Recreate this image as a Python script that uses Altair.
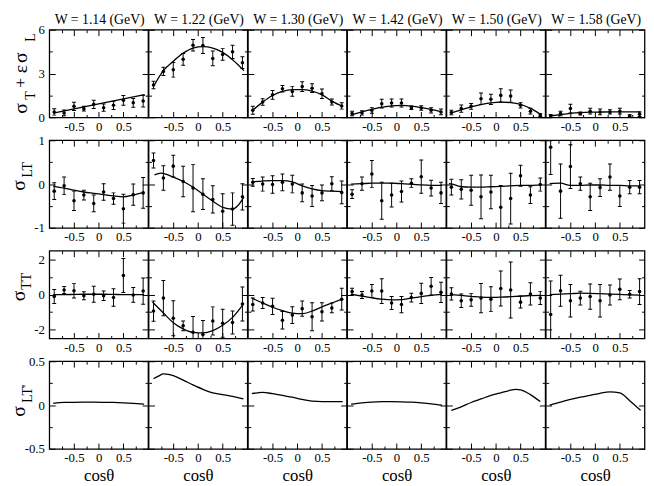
import altair as alt
import pandas as pd

FONT = "Liberation Serif"
W = 100.5
H = 89.2

# cos(theta) bins of the measured points
COS = [-0.9, -0.7, -0.5, -0.3, -0.1, 0.1, 0.3, 0.5, 0.7, 0.9]
W_TITLES = ["W = 1.14 (GeV)", "W = 1.22 (GeV)", "W = 1.30 (GeV)",
            "W = 1.42 (GeV)", "W = 1.50 (GeV)", "W = 1.58 (GeV)"]
X_MAJOR = [-0.5, 0, 0.5]
X_MINOR = [-0.75, -0.25, 0.25, 0.75]
ROW_DOMAINS = [[0, 6], [-1, 1], [-2.5, 2.5], [-0.5, 0.5]]
ROW_MAJOR = [[0, 3, 6], [-1, 0, 1], [-2, 0, 2], [-0.5, 0, 0.5]]
ROW_MINOR = [[1.5, 4.5], [-0.5, 0.5], [-1, 1], [-0.25, 0.25]]
GRID = [-0.92, -0.7, -0.5, -0.3, -0.1, 0.1, 0.3, 0.5, 0.7, 0.92]

# ---- row 1: sigma_T + eps sigma_L ----
R1_Y = [
    [0.38, 0.31, 0.76, 0.60, 0.90, 0.67, 0.83, 1.17, 1.00, 1.12],
    [2.22, 3.15, 3.26, 3.98, 4.94, 4.92, 4.04, 4.31, 4.49, 3.75],
    [0.49, 1.06, 1.55, 1.96, 1.78, 2.11, 2.00, 1.62, 1.06, 0.79],
    [0.27, 0.31, 0.49, 0.94, 0.99, 0.99, 0.67, 0.65, 0.49, 0.38],
    [0.34, 0.61, 0.76, 1.28, 1.24, 1.51, 1.46, 0.83, 0.43, 0.16],
    [0.10, 0.27, 0.61, 0.27, 0.43, 0.38, 0.38, 0.43, 0.09, 0.22],
]
R1_E = [
    [0.22, 0.20, 0.28, 0.16, 0.28, 0.25, 0.28, 0.34, 0.30, 0.40],
    [0.25, 0.28, 0.50, 0.40, 0.40, 0.55, 0.50, 0.40, 0.45, 0.40],
    [0.27, 0.22, 0.30, 0.22, 0.33, 0.33, 0.30, 0.33, 0.20, 0.22],
    [0.15, 0.15, 0.20, 0.30, 0.28, 0.28, 0.12, 0.15, 0.18, 0.20],
    [0.15, 0.25, 0.20, 0.40, 0.35, 0.45, 0.42, 0.18, 0.20, 0.10],
    [0.10, 0.15, 0.30, 0.10, 0.20, 0.20, 0.15, 0.20, 0.10, 0.15],
]
R1_CX = [[-0.92, 0.0, 0.93],
         [-0.89, -0.7, -0.5, -0.3, -0.1, 0.1, 0.3, 0.5, 0.7, 0.93],
         GRID, GRID, GRID, GRID]
R1_CY = [
    [0.30, 0.93, 1.57],
    [2.18, 3.20, 3.85, 4.40, 4.75, 4.85, 4.75, 4.45, 3.95, 3.20],
    [0.45, 1.05, 1.50, 1.78, 1.90, 1.90, 1.80, 1.55, 1.12, 0.75],
    [0.18, 0.38, 0.55, 0.70, 0.80, 0.82, 0.78, 0.68, 0.55, 0.38],
    [0.30, 0.52, 0.73, 0.88, 1.00, 1.05, 1.02, 0.90, 0.62, 0.18],
    [0.10, 0.20, 0.28, 0.33, 0.36, 0.37, 0.38, 0.38, 0.38, 0.38],
]

# ---- row 2: sigma_LT ----
R2_Y = [
    [-0.16, -0.04, -0.38, -0.25, -0.44, -0.18, -0.33, -0.56, -0.24, -0.20],
    [0.54, 0.14, 0.41, 0.06, -0.09, -0.23, -0.35, -0.62, -0.57, -0.29],
    [0.04, 0.00, -0.01, 0.04, 0.00, -0.20, -0.27, -0.20, 0.01, -0.19],
    [-0.23, 0.01, 0.23, -0.38, -0.25, -0.17, 0.02, 0.17, -0.09, -0.20],
    [-0.07, -0.12, -0.14, -0.29, -0.18, -0.53, -0.33, 0.19, -0.25, -0.01],
    [0.84, -0.16, 0.40, 0.01, -0.29, -0.08, 0.16, -0.27, -0.07, -0.07],
]
R2_E = [
    [0.19, 0.20, 0.22, 0.11, 0.19, 0.19, 0.13, 0.33, 0.24, 0.35],
    [0.17, 0.28, 0.25, 0.35, 0.54, 0.35, 0.31, 0.40, 0.37, 0.30],
    [0.09, 0.16, 0.20, 0.19, 0.20, 0.20, 0.24, 0.18, 0.16, 0.26],
    [0.10, 0.15, 0.31, 0.42, 0.27, 0.24, 0.10, 0.38, 0.18, 0.24],
    [0.18, 0.22, 0.34, 0.50, 0.38, 0.50, 0.58, 0.24, 0.19, 0.15],
    [0.62, 0.62, 0.50, 0.15, 0.31, 0.20, 0.30, 0.24, 0.15, 0.15],
]
R2_CX = [GRID,
         [-0.88, -0.75, -0.5, -0.3, -0.1, 0.1, 0.3, 0.5, 0.7, 0.8, 0.93],
         GRID, GRID,
         [-0.95, -0.88, -0.7, -0.5, -0.3, -0.1, 0.1, 0.3, 0.5, 0.7, 0.92],
         GRID]
R2_CY = [
    [-0.05, -0.09, -0.14, -0.18, -0.21, -0.24, -0.27, -0.29, -0.25, -0.19],
    [0.21, 0.25, 0.16, 0.06, -0.07, -0.23, -0.39, -0.53, -0.57, -0.50, -0.29],
    [0.05, 0.07, 0.08, 0.08, 0.05, -0.04, -0.11, -0.15, -0.16, -0.17],
    [0.00, 0.01, 0.02, 0.02, 0.02, 0.01, 0.00, -0.02, -0.03, -0.03],
    [0.01, 0.00, -0.06, -0.07, -0.07, -0.06, -0.05, -0.04, -0.03, -0.03, -0.02],
    [0.01, 0.02, -0.03, -0.03, -0.02, -0.02, -0.03, -0.03, -0.04, -0.04],
]

# ---- row 3: sigma_TT ----
R3_Y = [
    [-0.11, 0.26, 0.22, -0.07, 0.02, -0.06, -0.17, 1.09, -0.02, 0.20],
    [-0.94, -0.20, -1.35, -1.78, -2.15, -2.28, -1.50, -1.63, -1.59, -0.54],
    [-0.57, -0.48, -0.67, -1.46, -1.17, -0.80, -1.26, -0.98, -0.76, -0.26],
    [0.17, -0.02, 0.20, 0.20, -0.48, -0.57, -0.17, 0.07, 0.48, 0.13],
    [0.04, -0.35, -0.30, -0.20, -0.26, 0.35, 0.26, -0.43, 0.04, -0.20],
    [-1.13, 0.22, -0.35, -0.20, -0.11, -0.35, -0.02, 0.30, 0.02, 0.17],
]
R3_E = [
    [0.40, 0.20, 0.42, 0.23, 0.46, 0.27, 0.50, 0.97, 0.42, 0.75],
    [0.58, 1.00, 1.00, 0.28, 0.90, 0.80, 0.80, 0.80, 0.65, 0.97],
    [0.37, 0.31, 0.46, 0.50, 0.48, 0.43, 0.80, 0.52, 0.28, 0.62],
    [0.19, 0.20, 0.37, 0.71, 0.37, 0.46, 0.25, 0.58, 0.50, 0.58],
    [0.35, 0.39, 0.37, 0.83, 0.71, 1.00, 1.60, 0.34, 0.63, 0.37],
    [1.90, 0.88, 0.93, 0.39, 0.72, 0.93, 0.57, 0.59, 0.22, 0.74],
]
R3_CX = [GRID, [-0.92, -0.7, -0.5, -0.3, -0.1, 0.1, 0.3, 0.5, 0.7, 0.93],
         GRID, GRID, GRID, GRID]
R3_CY = [
    [0.00, 0.00, 0.01, 0.02, 0.02, 0.02, 0.01, 0.00, 0.00, 0.00],
    [-0.43, -1.05, -1.60, -1.95, -2.15, -2.18, -2.05, -1.75, -1.30, -0.50],
    [-0.20, -0.48, -0.72, -0.91, -1.06, -1.09, -0.94, -0.70, -0.48, -0.24],
    [0.02, -0.08, -0.18, -0.26, -0.30, -0.29, -0.20, -0.11, -0.04, 0.01],
    [0.00, -0.05, -0.10, -0.15, -0.16, -0.15, -0.12, -0.08, -0.06, -0.04],
    [0.00, 0.03, 0.05, 0.08, 0.07, 0.05, 0.03, 0.01, -0.01, -0.03],
]

# ---- row 4: sigma_LT' (curves only) ----
R4_CX = [GRID,
         [-0.9, -0.8, -0.7, -0.6, -0.5, -0.3, -0.1, 0.1, 0.3, 0.5, 0.7, 0.92],
         GRID, GRID,
         [-0.9, -0.7, -0.5, -0.3, -0.1, 0.1, 0.3, 0.4, 0.5, 0.7, 0.9],
         GRID]
R4_CY = [
    [0.020, 0.030, 0.032, 0.033, 0.033, 0.032, 0.030, 0.026, 0.020, 0.012],
    [0.30, 0.33, 0.355, 0.35, 0.335, 0.285, 0.23, 0.18, 0.14, 0.12, 0.10, 0.07],
    [0.13, 0.145, 0.13, 0.11, 0.09, 0.065, 0.045, 0.04, 0.04, 0.04],
    [0.010, 0.025, 0.035, 0.040, 0.040, 0.038, 0.033, 0.025, 0.015, 0.000],
    [-0.06, -0.02, 0.03, 0.07, 0.11, 0.14, 0.17, 0.18, 0.175, 0.12, 0.04],
    [0.00, 0.035, 0.064, 0.09, 0.11, 0.135, 0.15, 0.14, 0.05, -0.06],
]

POINT_Y = [R1_Y, R2_Y, R3_Y, None]
POINT_E = [R1_E, R2_E, R3_E, None]
CURVE_X = [R1_CX, R2_CX, R3_CX, R4_CX]
CURVE_Y = [R1_CY, R2_CY, R3_CY, R4_CY]

# y-axis title pieces
Y_TITLES = [
    [("σ", "main"), ("T", "sub"), ("+", "plus"), ("ε", "main"), ("σ", "main"), ("L", "sub")],
    [("σ", "main"), ("LT", "sub")],
    [("σ", "main"), ("TT", "sub")],
    [("σ", "main"), ("LT'", "sub")],
]
# placement of those pieces (relative to the first panel of each row)
Y_TITLE_POS = [
    [(-29, 80), (-18.5, 67), (-29, 54), (-29, 40), (-29, 28.5), (-18.5, 8)],
    [(-31, 46), (-21.5, 30)],
    [(-31, 46), (-23, 31)],
    [(-31, 51), (-22, 33)],
]
SIZES = {"main": 20, "sub": 14, "plus": 18}

LABEL_EXPR = "datum.value < 0 ? '-' + toString(-datum.value) : toString(datum.value)"


def make_panel(r, c):
    xsc = alt.Scale(domain=[-1, 1], nice=False, zero=False)
    ysc = alt.Scale(domain=ROW_DOMAINS[r], nice=False, zero=False)
    curve_df = pd.DataFrame({"x": CURVE_X[r][c], "y": CURVE_Y[r][c]})
    layers = []
    if POINT_Y[r] is not None:
        yv = POINT_Y[r][c]
        ev = POINT_E[r][c]
        df = pd.DataFrame({
            "x": COS, "y": yv,
            "lo": [a - b for a, b in zip(yv, ev)],
            "hi": [a + b for a, b in zip(yv, ev)],
        })
        base = alt.Chart(df)
        layers.append(base.mark_rule(color="black", strokeWidth=1, clip=True).encode(
            x=alt.X("x:Q", scale=xsc, axis=None),
            y=alt.Y("lo:Q", scale=ysc, axis=None),
            y2="hi:Q"))
        for col in ("lo", "hi"):
            layers.append(base.mark_tick(orient="horizontal", size=4, thickness=1,
                                         color="black", opacity=1, clip=True).encode(
                x=alt.X("x:Q", scale=xsc, axis=None),
                y=alt.Y(f"{col}:Q", scale=ysc, axis=None)))
        layers.append(base.mark_circle(size=13, color="black", opacity=1, clip=True).encode(
            x=alt.X("x:Q", scale=xsc, axis=None),
            y=alt.Y("y:Q", scale=ysc, axis=None)))
    layers.append(alt.Chart(curve_df).mark_line(color="black", strokeWidth=1.3,
                                                interpolate="monotone", clip=True).encode(
        x=alt.X("x:Q", scale=xsc, axis=None),
        y=alt.Y("y:Q", scale=ysc, axis=None)))

    tick_common = dict(grid=False, domain=False, labels=False, tickColor="black",
                       tickWidth=1, title=None)
    if r == 3:
        xtitle = dict(title="cosθ", titleFont=FONT, titleFontSize=17,
                      titleFontWeight="normal", titleColor="black", titlePadding=3)
    else:
        xtitle = dict(title=None)
    x_axes = [
        alt.Axis(orient="bottom", values=X_MAJOR, ticks=False, tickSize=0, domain=False,
                 grid=False, labelFont=FONT, labelFontSize=13, labelColor="black",
                 labelPadding=3, labelExpr=LABEL_EXPR, **xtitle),
        alt.Axis(orient="top", offset=-H, values=X_MAJOR, tickSize=6, **tick_common),
        alt.Axis(orient="top", offset=-H, values=X_MINOR, tickSize=3, **tick_common),
        alt.Axis(orient="bottom", offset=-H, values=X_MAJOR, tickSize=6, **tick_common),
        alt.Axis(orient="bottom", offset=-H, values=X_MINOR, tickSize=3, **tick_common),
    ]
    if c == 0:
        ylab = alt.Axis(orient="left", values=ROW_MAJOR[r], ticks=False, tickSize=0,
                        domain=False, grid=False, labelFont=FONT, labelFontSize=13,
                        labelColor="black", labelPadding=5, labelExpr=LABEL_EXPR, title=None)
    else:
        ylab = None
    y_axes = [
        ylab,
        alt.Axis(orient="right", offset=-W, values=ROW_MAJOR[r], tickSize=6, **tick_common),
        alt.Axis(orient="right", offset=-W, values=ROW_MINOR[r], tickSize=3, **tick_common),
        alt.Axis(orient="left", offset=-W, values=ROW_MAJOR[r], tickSize=6, **tick_common),
        alt.Axis(orient="left", offset=-W, values=ROW_MINOR[r], tickSize=3, **tick_common),
    ]
    for xa, ya in zip(x_axes, y_axes):
        layers.append(alt.Chart(curve_df).mark_point(opacity=0).encode(
            x=alt.X("x:Q", scale=xsc, axis=xa),
            y=alt.Y("y:Q", scale=ysc, axis=ya)))

    if c == 0:
        for (txt, kind), (px, py) in zip(Y_TITLES[r], Y_TITLE_POS[r]):
            layers.append(alt.Chart(pd.DataFrame({"t": [txt]})).mark_text(
                font=FONT, fontSize=SIZES[kind], angle=270, align="center",
                baseline="middle", color="black").encode(
                x=alt.value(px), y=alt.value(py), text="t:N"))

    if r == 0:
        layers.append(alt.Chart(pd.DataFrame({"t": [W_TITLES[c]]})).mark_text(
            font=FONT, fontSize=14, align="center", baseline="alphabetic",
            color="black").encode(x=alt.value(W / 2 + 1), y=alt.value(-6), text="t:N"))

    return alt.layer(*layers).resolve_axis(x="independent", y="independent").properties(
        width=W, height=H)


panels = [make_panel(r, c) for r in range(4) for c in range(6)]
chart = alt.concat(*panels, columns=6, spacing={"row": 22.4, "column": 0},
                   bounds="flush", padding=0,
                   background="white").configure_view(stroke="black", strokeWidth=1.3)

chart.save("out.html", embed_options={"renderer": "svg", "actions": False})
